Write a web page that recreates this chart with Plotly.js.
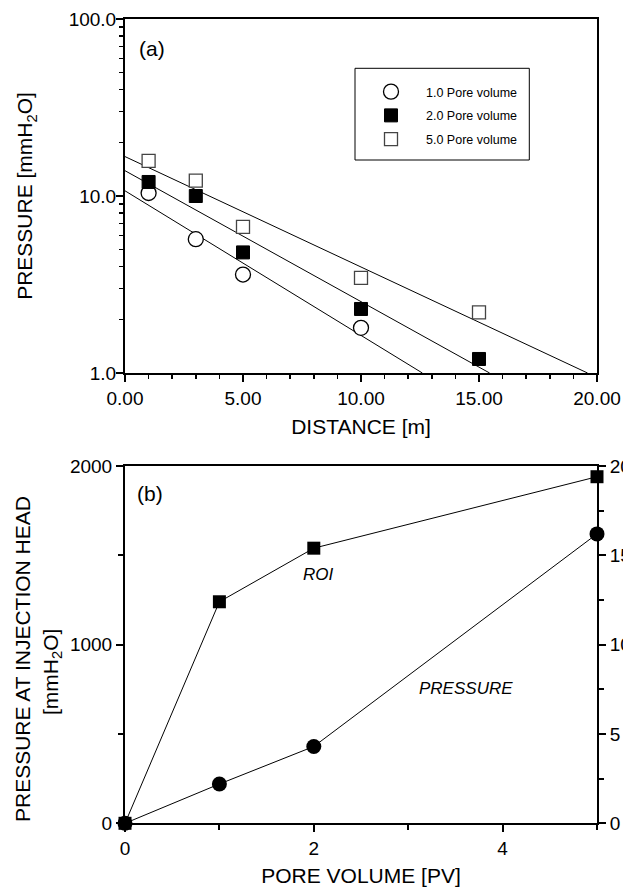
<!DOCTYPE html>
<html>
<head>
<meta charset="utf-8">
<script src="https://cdn.plot.ly/plotly-3.0.1.min.js"></script>
<style>
  html, body { margin: 0; padding: 0; background: #fff; }
  #chart { width: 623px; height: 890px; }
</style>
</head>
<body>
<div id="chart"></div>
<script>
// (a) pressure profiles along the distance from the injection point
const distance1 = [1, 3, 5, 10];
const distance2 = [1, 3, 5, 10, 15];
const distance5 = [1, 3, 5, 10, 15];
const pressurePV1 = [10.4, 5.7, 3.6, 1.8];
const pressurePV2 = [12.0, 10.0, 4.8, 2.3, 1.2];
const pressurePV5 = [15.8, 12.2, 6.7, 3.45, 2.2];

// fitted exponential decay lines (end points)
const fitPV1X = [0, 12.6];
const fitPV1Y = [10.7, 1.0];
const fitPV2X = [0, 15.45];
const fitPV2Y = [13.9, 1.0];
const fitPV5X = [0, 19.6];
const fitPV5Y = [16.7, 1.0];

const seriesNames = ['1.0 Pore volume', '2.0 Pore volume', '5.0 Pore volume'];

// (b) injection head pressure and ROI against injected pore volume
const poreVolume = [0, 1, 2, 5];
const headPressure = [0, 220, 430, 1620];
const roi = [0, 12.4, 15.4, 19.4];

const FONT = 'Liberation Sans, Arial, Helvetica, sans-serif';
const W = 623, H = 890;
const px = v => v / W;
const py = v => 1 - v / H;

const xDom = [px(125), px(597)];
const yDomA = [py(373), py(19)];
const yDomB = [py(823.3), py(466)];

const tickFont = { family: FONT, size: 19, color: '#000' };
const titleFont = { family: FONT, size: 21, color: '#000' };

function baseAxis(extra) {
  return Object.assign({
    showgrid: false, zeroline: false,
    showline: true, linecolor: '#000', linewidth: 2,
    ticks: 'outside', ticklen: 7, tickwidth: 2, tickcolor: '#000',
    tickfont: tickFont, fixedrange: true
  }, extra);
}

const lineStyle = { color: '#000', width: 1 };

const traces = [
  // fit lines
  { x: fitPV1X, y: fitPV1Y, xaxis: 'x', yaxis: 'y', mode: 'lines', line: lineStyle, showlegend: false, hoverinfo: 'skip' },
  { x: fitPV2X, y: fitPV2Y, xaxis: 'x', yaxis: 'y', mode: 'lines', line: lineStyle, showlegend: false, hoverinfo: 'skip' },
  { x: fitPV5X, y: fitPV5Y, xaxis: 'x', yaxis: 'y', mode: 'lines', line: lineStyle, showlegend: false, hoverinfo: 'skip' },
  // measured points
  { x: distance1, y: pressurePV1, xaxis: 'x', yaxis: 'y', mode: 'markers', name: seriesNames[0], legendgroup: 'g1',
    marker: { symbol: 'circle', size: 15, color: '#fff', line: { color: '#000', width: 1.3 } }, cliponaxis: false },
  { x: distance2, y: pressurePV2, xaxis: 'x', yaxis: 'y', mode: 'markers', name: seriesNames[1], legendgroup: 'g2',
    marker: { symbol: 'square', size: 13, color: '#000', line: { color: '#000', width: 1 } }, cliponaxis: false },
  { x: distance5, y: pressurePV5, xaxis: 'x', yaxis: 'y', mode: 'markers', name: seriesNames[2], legendgroup: 'g3',
    marker: { symbol: 'square', size: 13, color: '#fff', line: { color: '#444', width: 1.3 } }, cliponaxis: false },
  // panel (b)
  { x: poreVolume, y: headPressure, xaxis: 'x2', yaxis: 'y2', mode: 'lines+markers', showlegend: false,
    line: lineStyle, marker: { symbol: 'circle', size: 15, color: '#000' }, cliponaxis: false },
  { x: poreVolume, y: roi, xaxis: 'x2', yaxis: 'y4', mode: 'lines+markers', showlegend: false,
    line: lineStyle, marker: { symbol: 'square', size: 13, color: '#000' }, cliponaxis: false }
];

const layout = {
  width: W, height: H,
  margin: { l: 0, r: 0, t: 0, b: 0 },
  paper_bgcolor: '#fff', plot_bgcolor: 'rgba(0,0,0,0)',
  font: { family: FONT, color: '#000' },
  showlegend: true,
  legend: {
    x: px(356), y: py(77), xanchor: 'left', yanchor: 'top',
    bgcolor: 'rgba(0,0,0,0)', borderwidth: 0,
    font: { family: FONT, size: 12.5, color: '#000' },
    traceorder: 'grouped', tracegroupgap: 4.5, itemwidth: 60
  },
  // panel (a)
  xaxis: baseAxis({
    domain: xDom, anchor: 'y', range: [0, 20], dtick: 5, tickformat: '.2f', mirror: true,
    minor: { ticks: 'outside', dtick: 1, ticklen: 4, tickwidth: 1.5, tickcolor: '#000' },
    title: { text: 'DISTANCE [m]', font: titleFont, standoff: 12 }
  }),
  yaxis: baseAxis({
    domain: yDomA, anchor: 'x', type: 'log', range: [0, 2], dtick: 1, tickformat: '.1f', mirror: true,
    ticklabelstandoff: -4,
    minor: { ticks: 'outside', dtick: 'D1', ticklen: 4, tickwidth: 1.5, tickcolor: '#000' },
    title: { text: 'PRESSURE [mmH<sub>2</sub>O]', font: titleFont, standoff: 30 }
  }),
  xaxis3: baseAxis({
    overlaying: 'x', side: 'top', anchor: 'y', range: [0, 20], dtick: 5, showline: false,
    ticks: 'inside', showticklabels: false,
    minor: { ticks: 'inside', dtick: 1, ticklen: 4, tickwidth: 1.5, tickcolor: '#000' }
  }),
  yaxis3: baseAxis({
    overlaying: 'y', side: 'right', anchor: 'x', type: 'log', range: [0, 2], dtick: 1, showline: false,
    ticks: 'inside', showticklabels: false,
    minor: { ticks: 'inside', dtick: 'D1', ticklen: 4, tickwidth: 1.5, tickcolor: '#000' }
  }),
  // panel (b)
  xaxis2: baseAxis({
    domain: xDom, anchor: 'y2', range: [0, 5], dtick: 2, mirror: true,
    minor: { ticks: 'outside', dtick: 1, ticklen: 5, tickwidth: 2, tickcolor: '#000' },
    title: { text: 'PORE VOLUME [PV]', font: titleFont, standoff: 10 }
  }),
  yaxis2: baseAxis({
    domain: yDomB, anchor: 'x2', range: [0, 2000], dtick: 1000, tickformat: 'd',
    minor: { ticks: 'outside', dtick: 500, ticklen: 5, tickwidth: 2, tickcolor: '#000' }
  }),
  xaxis4: baseAxis({
    overlaying: 'x2', side: 'top', anchor: 'y2', range: [0, 5], dtick: 2, showline: false,
    ticks: 'inside', showticklabels: false
  }),
  yaxis4: baseAxis({
    overlaying: 'y2', side: 'right', anchor: 'x2', range: [0, 20], dtick: 5,
    minor: { ticks: 'outside', dtick: 2.5, ticklen: 5, tickwidth: 2, tickcolor: '#000' }
  }),
  shapes: [
    { type: 'rect', xref: 'paper', yref: 'paper', x0: px(355), x1: px(529.3), y0: py(160), y1: py(68.3),
      line: { color: '#000', width: 1 }, fillcolor: 'rgba(0,0,0,0)' }
  ],
  annotations: [
    { text: '(a)', xref: 'paper', yref: 'paper', x: px(151.5), y: py(48), xanchor: 'center', yanchor: 'middle',
      showarrow: false, font: titleFont },
    { text: '(b)', xref: 'paper', yref: 'paper', x: px(150), y: py(493), xanchor: 'center', yanchor: 'middle',
      showarrow: false, font: titleFont },
    { text: '<i>ROI</i>', xref: 'paper', yref: 'paper', x: px(318), y: py(574), xanchor: 'center', yanchor: 'middle',
      showarrow: false, font: { family: FONT, size: 17, color: '#000' } },
    { text: '<i>PRESSURE</i>', xref: 'paper', yref: 'paper', x: px(466), y: py(688), xanchor: 'center', yanchor: 'middle',
      showarrow: false, font: { family: FONT, size: 17, color: '#000' } },
    { text: 'PRESSURE AT INJECTION HEAD', xref: 'paper', yref: 'paper', x: px(22), y: py(659), textangle: -90,
      xanchor: 'center', yanchor: 'middle', showarrow: false, font: titleFont },
    { text: '[mmH<sub>2</sub>O]', xref: 'paper', yref: 'paper', x: px(52), y: py(672), textangle: -90,
      xanchor: 'center', yanchor: 'middle', showarrow: false, font: titleFont }
  ]
};

Plotly.newPlot('chart', traces, layout, { staticPlot: true, displayModeBar: false });
</script>
</body>
</html>
